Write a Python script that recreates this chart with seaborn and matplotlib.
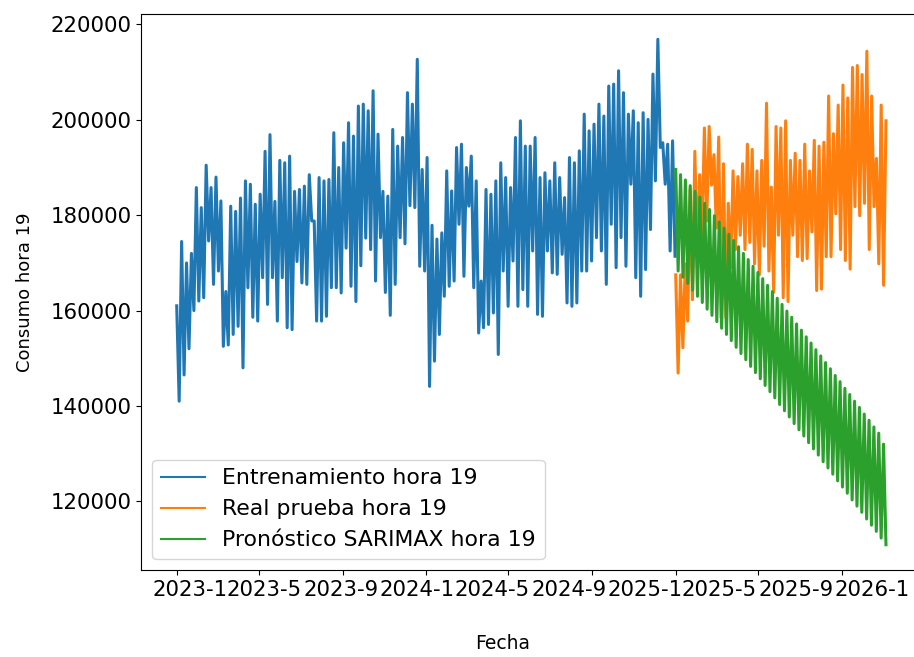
#consumo hora 19: entrenamiento, prueba y pronostico SARIMAX

import pandas as pd
import matplotlib
matplotlib.use('Agg')
import matplotlib.pyplot as plt
import matplotlib.transforms as mtransforms
import seaborn as sns

# valores (pico / valle de cada semana)
train_vals = [
    161000, 141000, 174500, 146500, 170000, 152000, 172000, 160000, 185800, 162000,
    181600, 162700, 190500, 174600, 185800, 165500, 188000, 168300, 183000, 152500,
    164000, 152800, 181900, 155000, 180800, 156700, 183600, 148000, 187200, 164800,
    186500, 158600, 182300, 157800, 184400, 166900, 193400, 161300, 196900, 166900,
    182900, 157800, 191500, 166900, 191000, 156400, 192400, 156000, 185000, 170300,
    185400, 165800, 186100, 165500, 188500, 178800, 178800, 157800, 187900, 157800,
    187200, 158800, 187500, 164800, 197300, 164800, 190000, 163700, 195200, 173100,
    199400, 165100, 196600, 161900, 202900, 169400, 203300, 175200, 201900, 172800,
    206100, 166200, 197000, 175300, 185000, 163800, 184000, 159000, 198000, 165500,
    194500, 175300,
    196300, 174000, 205700, 182000, 203300, 181600, 212700, 169300, 189600, 168300,
    192100, 144100, 177900, 149400, 175000, 155000, 176300, 163000, 189300, 165100,
    185100, 166200, 194200, 178100, 194900, 167200, 190000, 181900, 192400, 164800,
    187200, 155300, 166200, 156400, 185400, 157100, 184400, 159500, 187200, 150800,
    191000, 168300, 187900, 160900, 185800, 170400, 196300, 160900, 199800, 164400,
    194500, 160900, 194500, 172500, 196300, 159200, 187900, 158800, 188900, 172500,
    187200, 167900, 191000, 167600, 187900, 171800, 183700, 161600, 192100, 160900,
    191000, 161600, 193500, 168300, 201200, 168300, 197700, 170400, 199100, 175300,
    203300, 172500, 200800, 165500, 207100, 178100, 207500, 169000, 210300, 175300,
    205700, 169300, 201200, 186500, 201900, 166900, 199400, 163000, 201500, 168600,
    200100, 177000, 209600, 187200, 216900, 194200, 195200, 186500, 194900, 172500,
    195600, 171400,
]

test_vals = [
    167500, 146900, 167500, 152200, 169800, 157800, 185500, 162300, 193400, 172000,
    188500, 175800, 198300, 178800, 198600, 186300, 192700, 177300, 196400, 158500,
    190800, 158500, 182500, 169000, 189300, 172800, 188100, 175800, 190800, 172800,
    194900, 174300, 193800, 169800, 189300, 167500, 191500, 173500, 203500, 168300,
    185900, 163800, 198600, 175800, 198300, 162700, 199800, 161900, 191500, 175800,
    193000, 171300, 191500, 170500, 194900, 170900, 189300, 176500, 195700, 164200,
    194500, 164500, 195300, 171300, 205000, 171300, 197100, 180300, 203100, 172800,
    207300, 170500, 204600, 168700, 211000, 181800, 211400, 179900, 209500, 182500,
    214400, 172800, 205000, 181800, 191900, 169800, 203100, 165300, 199800,
]

forecast_vals = [
    189600, 168300, 188500, 167000, 187400, 165700, 186200, 164300, 185000, 163000,
    183800, 161700, 182500, 160300, 181200, 159000, 179900, 157700, 178600, 156300,
    177300, 155000, 176000, 153700, 174700, 152300, 173400, 151000, 172000, 149700,
    170700, 148300, 169300, 147000, 168000, 145700, 166700, 144300, 165300, 143000,
    164000, 141700, 162600, 140300, 161300, 139000, 159900, 137700, 158600, 136300,
    157200, 135000, 155900, 133700, 154500, 132300, 153200, 131000, 151800, 129700,
    150500, 128300, 149100, 127000, 147800, 125700, 146400, 124300, 145100, 123000,
    143700, 121700, 142400, 120300, 141000, 119000, 139700, 117700, 138300, 116300,
    137000, 115000, 135600, 113700, 134300, 112300, 132000, 110900,
]

tick_dates = pd.to_datetime(['2023-01-01', '2023-05-01', '2023-09-01', '2024-01-01', '2024-05-01',
                             '2024-09-01', '2025-01-01', '2025-05-01', '2025-09-01', '2026-01-01'])
tick_labels = ['2023-1', '2023-5', '2023-9', '2024-1', '2024-5',
               '2024-9', '2025-1', '2025-5', '2025-9', '2026-1']


def main():
    train = pd.DataFrame({'fecha': pd.date_range('2023-01-01', '2024-12-31', periods=len(train_vals)),
                          'consumo': train_vals})
    test = pd.DataFrame({'fecha': pd.date_range('2025-01-01', '2025-11-05', periods=len(test_vals)),
                         'consumo': test_vals})
    pred = pd.DataFrame({'fecha': pd.date_range('2025-01-01', '2025-11-05', periods=len(forecast_vals)),
                         'consumo': forecast_vals})

    fig = plt.figure(figsize=(9.14, 6.57), dpi=100)
    ax = fig.add_axes([0.1545, 0.1324, 0.8589, 0.8463])
    sns.lineplot(data=train, x='fecha', y='consumo', ax=ax, color='#1f77b4', linewidth=2.2,
                 label='Entrenamiento hora 19')
    sns.lineplot(data=test, x='fecha', y='consumo', ax=ax, color='#ff7f0e', linewidth=2.2,
                 label='Real prueba hora 19')
    sns.lineplot(data=pred, x='fecha', y='consumo', ax=ax, color='#2ca02c', linewidth=2.2,
                 label='Pronóstico SARIMAX hora 19')

    ax.set_xlim(pd.Timestamp('2022-11-10'), pd.Timestamp('2026-01-03'))
    ax.set_xticks(tick_dates, labels=tick_labels)
    ax.tick_params(axis='both', labelsize=15.3)
    ax.spines['right'].set_visible(False)
    ax.set_xlabel('Fecha', fontsize=13.5, labelpad=25, x=0.461)
    ax.set_ylabel('Consumo hora 19', fontsize=13, labelpad=12)
    leg = ax.legend(loc='lower left', fontsize=15.8)
    for line in leg.get_lines():
        line.set_linewidth(1.5)

    # las etiquetas del eje x quedan pegadas unas a otras como en el original
    for i, lab in enumerate(ax.get_xticklabels()):
        shift = (12.9 - 7.3 * i) / fig.dpi
        lab.set_transform(lab.get_transform() + mtransforms.ScaledTranslation(shift, 0, fig.dpi_scale_trans))

    fig.savefig('out.png', dpi=100)
    plt.close()


if __name__ == '__main__':
    main()
